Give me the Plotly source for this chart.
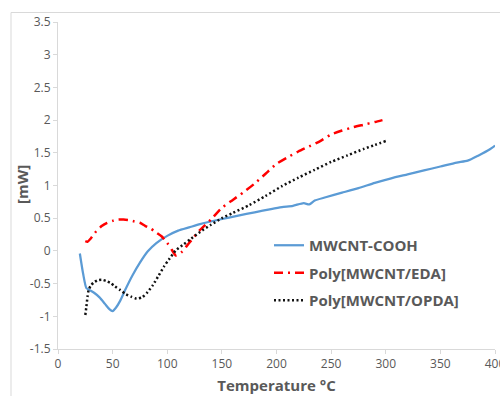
import plotly.graph_objects as go

# ---- data ----
cooh_T = [20, 23, 26, 29, 33, 38, 43, 47, 50, 53, 57, 62, 68, 75, 82, 90, 100, 110, 120, 130, 148,
          165, 180, 195, 205, 215, 225, 230, 235, 245, 260, 275, 290, 305, 320, 335, 350, 365, 375,
          385, 395, 400]
cooh_v = [-0.04, -0.35, -0.57, -0.60, -0.64, -0.71, -0.81, -0.89, -0.92, -0.87, -0.76, -0.58, -0.38,
          -0.18, -0.01, 0.12, 0.23, 0.31, 0.36, 0.41, 0.48, 0.54, 0.59, 0.64, 0.67, 0.69, 0.73, 0.71,
          0.77, 0.82, 0.89, 0.96, 1.04, 1.11, 1.17, 1.23, 1.29, 1.35, 1.38, 1.46, 1.55, 1.61]

eda_T = [25, 27, 30, 35, 40, 45, 50, 55, 60, 65, 70, 75, 80, 85, 90, 95, 100, 104, 108, 113, 120,
         130, 140, 150, 160, 170, 180, 190, 200, 210, 220, 230, 240, 250, 260, 270, 280, 290, 297]
eda_v = [0.15, 0.14, 0.19, 0.30, 0.38, 0.43, 0.46, 0.48, 0.48, 0.47, 0.45, 0.43, 0.38, 0.34, 0.28,
         0.22, 0.12, 0.02, -0.07, -0.02, 0.12, 0.32, 0.48, 0.66, 0.78, 0.90, 1.03, 1.18, 1.33, 1.43,
         1.52, 1.60, 1.68, 1.78, 1.84, 1.89, 1.93, 1.97, 2.00]

opda_T = [25, 26, 27, 28, 30, 33, 36, 40, 44, 48, 52, 57, 62, 67, 72, 77, 82, 87, 92, 97, 102, 108,
          115, 122, 130, 140, 150, 160, 175, 190, 205, 220, 235, 250, 265, 280, 290, 300]
opda_v = [-0.98, -0.85, -0.70, -0.60, -0.53, -0.48, -0.45, -0.44, -0.46, -0.49, -0.54, -0.60, -0.66,
          -0.70, -0.73, -0.71, -0.63, -0.52, -0.38, -0.24, -0.12, 0.01, 0.10, 0.19, 0.29, 0.40, 0.50,
          0.58, 0.70, 0.84, 0.99, 1.12, 1.24, 1.36, 1.46, 1.56, 1.62, 1.68]

names = ["MWCNT-COOH", "Poly[MWCNT/EDA]", "Poly[MWCNT/OPDA]"]
x_ticks = [0, 50, 100, 150, 200, 250, 300, 350, 400]
y_ticks = [-1.5, -1, -0.5, 0, 0.5, 1, 1.5, 2, 2.5, 3, 3.5]

W, H = 500, 396
L, R, T, B = 58, 5, 22, 47
GREY = "#595959"
AX = "#D9D9D9"

fig = go.Figure()
fig.add_trace(go.Scatter(x=cooh_T, y=cooh_v, mode="lines", name=names[0], legendgroup="a",
                         line=dict(color="#5B9BD5", width=2.25, shape="spline", smoothing=0.6)))
fig.add_trace(go.Scatter(x=eda_T, y=eda_v, mode="lines", name=names[1], legendgroup="b",
                         line=dict(color="#FF0000", width=2.5, dash="9px,5px,2px,5px",
                                   shape="spline", smoothing=0.6)))
fig.add_trace(go.Scatter(x=opda_T, y=opda_v, mode="lines", name=names[2], legendgroup="c",
                         line=dict(color="#111111", width=2.5, dash="2px,2.5px",
                                   shape="spline", smoothing=0.6)))

pw, ph = W - L - R, H - T - B
def px2paper(px, py):
    return (px - L) / pw, (H - B - py) / ph

x0, y0 = px2paper(11, 396)
x1, y1 = px2paper(11, 12.5)
x2, y2 = px2paper(500, 12.5)
fig.add_shape(type="path", xref="paper", yref="paper",
              path=f"M {x0} {y0} L {x1} {y1} L {x2} {y2}",
              line=dict(color="#D9D9D9", width=1))

ytx, yty = px2paper(22, 185)
fig.add_annotation(text="<b>[mW]</b>", xref="paper", yref="paper", x=ytx, y=yty,
                   xanchor="center", yanchor="middle", textangle=-90, showarrow=False,
                   font=dict(size=15, color=GREY))

lx, ly = px2paper(269, 229)
fig.update_layout(
    width=W, height=H,
    margin=dict(l=L, r=R, t=T, b=B, autoexpand=False),
    paper_bgcolor="white", plot_bgcolor="white",
    font=dict(family="Open Sans", color=GREY),
    showlegend=True,
    legend=dict(x=lx, y=ly, xanchor="left", yanchor="top", bgcolor="rgba(0,0,0,0)",
                font=dict(size=15, color=GREY, weight="bold"), tracegroupgap=5,
                itemwidth=30),
    xaxis=dict(range=[0, 400], tickvals=x_ticks, ticktext=[str(v) for v in x_ticks],
               showgrid=False, zeroline=False, showline=True, linecolor=AX, linewidth=1,
               ticks="outside", ticklen=4, tickcolor=AX, tickfont=dict(size=12, color=GREY),
               ticklabeloverflow="allow",
               title=dict(text="Temperature °C", font=dict(size=15, color=GREY, weight="bold"),
                          standoff=9),
               automargin=False),
    yaxis=dict(range=[-1.5, 3.5], tickvals=y_ticks, ticktext=[f"{v:g}" for v in y_ticks],
               showgrid=False, zeroline=False, showline=True, linecolor=AX, linewidth=1,
               ticks="outside", ticklen=4, tickcolor=AX, tickfont=dict(size=12, color=GREY),
               ticklabeloverflow="allow",
               automargin=False),
)

fig.write_html("out.html")
